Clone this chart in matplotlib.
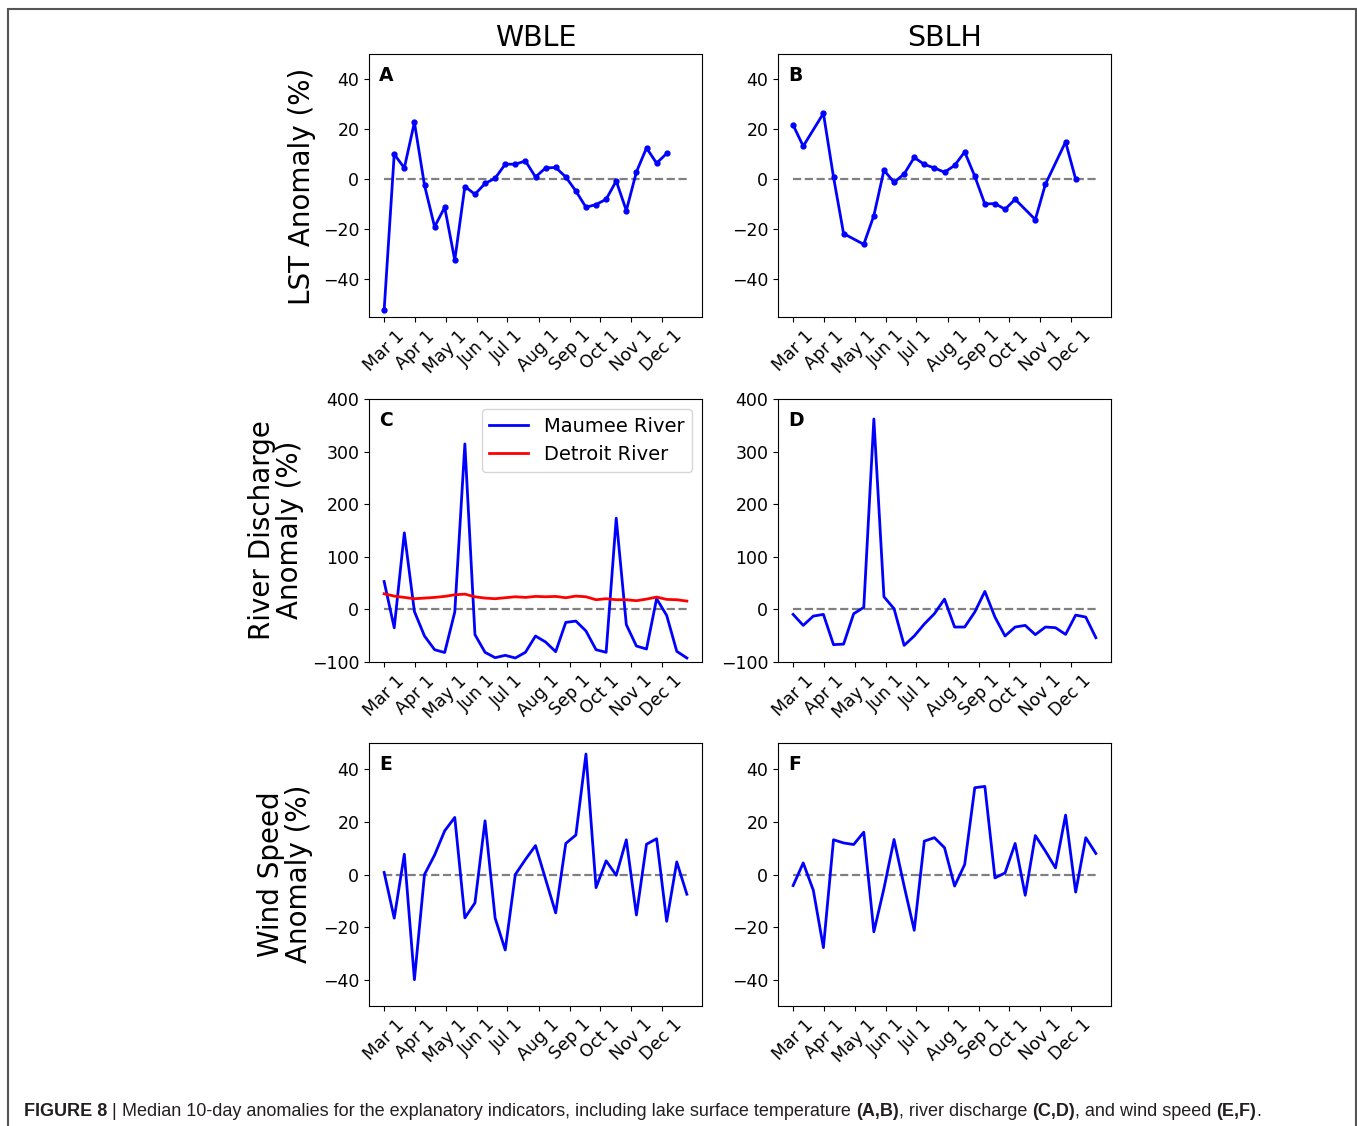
import numpy as np
import matplotlib.pyplot as plt
from matplotlib.patches import Rectangle

# ------------------------------------------------------------
# data (days after Mar 1, one value every 10 days)
# ------------------------------------------------------------
DAYS = [0, 10, 20, 30, 40, 50, 60, 70, 80, 90, 100, 110, 120, 130, 140, 150,
        160, 170, 180, 190, 200, 210, 220, 230, 240, 250, 260, 270, 280, 290, 300]

MONTH_DAYS = [0, 31, 61, 92, 122, 153, 184, 214, 245, 275]
MONTH_LABELS = ["Mar 1", "Apr 1", "May 1", "Jun 1", "Jul 1",
                "Aug 1", "Sep 1", "Oct 1", "Nov 1", "Dec 1"]

# LST anomaly (%)
LST_WBLE = [-52.3, 10.0, 4.5, 22.7, -2.4, -19.0, -11.2, -32.3, -2.9, -6.0,
            -1.7, 0.4, 6.0, 6.0, 7.3, 0.9, 4.5, 4.7, 0.9, -4.7,
            -11.2, -10.1, -8.0, -0.7, -12.5, 2.9, 12.5, 6.4, 10.3]
SBLH_LST_DAYS = [0, 10, 30, 40, 50, 70, 80, 90, 100, 110, 120, 130, 140,
                 150, 160, 170, 180, 190, 200, 210, 220, 240, 250, 270, 280]
LST_SBLH = [21.6, 13.2, 26.3, 0.9, -21.7, -26.0, -14.5, 3.6, -1.2, 2.1,
            8.7, 5.9, 4.5, 2.8, 5.5, 10.9, 1.2, -9.9, -9.7, -12.0,
            -8.0, -16.1, -2.0, 14.9, 0.0]

# River discharge anomaly (%)
MAUMEE = [53, -35, 145.6, -4, -50.6, -76.6, -82, -5, 314.6, -48,
          -81.6, -91.8, -87.3, -92.4, -81.6, -50.6, -62, -80.4, -24.7, -22.2,
          -41, -76.6, -81.6, 173.4, -29, -69.6, -75.3, 20.3, -11.4, -79.7, -92.4]
DETROIT = [29.7, 25.3, 22.8, 20.3, 21.5, 22.8, 24.7, 27.8, 29.0, 24.0,
           21.5, 20.3, 22.2, 24.0, 22.8, 24.7, 24.0, 24.7, 22.2, 25.3,
           24.0, 18.4, 20.3, 18.4, 18.4, 16.5, 19.6, 23.4, 19.0, 18.4, 15.8]
SBLH_Q = [-9.5, -30.4, -12.7, -9.5, -67, -66, -8.2, 3.8, 362, 24,
          1.3, -68.4, -50.6, -27.8, -8.2, 19.6, -33.5, -33.5, -5, 34.2,
          -14.6, -50.6, -33.5, -30.4, -48, -33.5, -34.8, -47.5, -10.8, -14.6, -53.8]

# Wind speed anomaly (%)
WIND_WBLE = [0.8, -16.6, 7.7, -40, 0, 7.4, 16.6, 21.7, -16.5, -10.8,
             20.4, -16.6, -28.7, 0, 5.7, 11, -1.8, -14.6, 11.8, 15,
             45.8, -5, 5.2, -0.3, 13.2, -15.4, 11.5, 13.6, -17.8, 4.8, -7.5]
WIND_SBLH = [-4.2, 4.4, -6, -27.8, 13.2, 12, 11.4, 16.1, -21.8, -5.3,
             13.3, -4.4, -21.2, 12.7, 14, 10.2, -4.4, 3.8, 33, 33.5,
             -1.3, 0.6, 11.8, -7.9, 14.8, 8.9, 2.5, 22.6, -6.7, 14, 8]

# ------------------------------------------------------------
# layout (pixel boxes measured on a 1357 x 1126 canvas)
# ------------------------------------------------------------
FIG_W, FIG_H = 1357, 1126
AX_W, AX_H = 333, 263
COL_LEFT = [369, 778]
ROW_TOP = [54, 399, 743]

fig = plt.figure(figsize=(FIG_W / 100, FIG_H / 100), dpi=100)


def add_ax(col, row):
    left = COL_LEFT[col] / FIG_W
    bottom = 1 - (ROW_TOP[row] + AX_H) / FIG_H
    return fig.add_axes([left, bottom, AX_W / FIG_W, AX_H / FIG_H])


def style(ax, letter, ylim, yticks):
    ax.plot([DAYS[0], DAYS[-1]], [0, 0], linestyle="--", color="gray", lw=1.6, zorder=1)
    ax.set_xticks(MONTH_DAYS)
    ax.set_xticklabels(MONTH_LABELS, rotation=45)
    ax.set_ylim(*ylim)
    ax.set_yticks(yticks)
    ax.tick_params(labelsize=12.5)
    ax.text(0.03, 0.955, letter, transform=ax.transAxes, ha="left", va="top",
            fontsize=13.5, fontweight="bold")


BLUE = "#0000ff"

# row 1: LST
axA = add_ax(0, 0)
axA.plot(DAYS[:len(LST_WBLE)], LST_WBLE, color=BLUE, lw=2, marker="o", ms=3.5)
style(axA, "A", (-55, 50), [-40, -20, 0, 20, 40])
axA.set_title("WBLE", fontsize=20.5)

axB = add_ax(1, 0)
axB.plot(SBLH_LST_DAYS, LST_SBLH, color=BLUE, lw=2, marker="o", ms=3.5)
style(axB, "B", (-55, 50), [-40, -20, 0, 20, 40])
axB.set_title("SBLH", fontsize=20.5)

# row 2: discharge
axC = add_ax(0, 1)
axC.plot(DAYS, MAUMEE, color=BLUE, lw=2, label="Maumee River")
axC.plot(DAYS, DETROIT, color="red", lw=2, label="Detroit River")
style(axC, "C", (-100, 400), [-100, 0, 100, 200, 300, 400])
axC.legend(loc="upper right", fontsize=14)

axD = add_ax(1, 1)
axD.plot(DAYS, SBLH_Q, color=BLUE, lw=2)
style(axD, "D", (-100, 400), [-100, 0, 100, 200, 300, 400])

# row 3: wind
axE = add_ax(0, 2)
axE.plot(DAYS, WIND_WBLE, color=BLUE, lw=2)
style(axE, "E", (-50, 50), [-40, -20, 0, 20, 40])

axF = add_ax(1, 2)
axF.plot(DAYS, WIND_SBLH, color=BLUE, lw=2)
style(axF, "F", (-50, 50), [-40, -20, 0, 20, 40])

for ax in (axA, axB, axC, axD, axE, axF):
    ax.set_xlim(-15, 315)

# y labels
fig.text(302 / FIG_W, 1 - 186 / FIG_H, "LST Anomaly (%)", rotation=90,
         ha="center", va="center", fontsize=20)
fig.text(276 / FIG_W, 1 - 530 / FIG_H, "River Discharge\nAnomaly (%)", rotation=90,
         ha="center", va="center", fontsize=20, linespacing=1.0)
fig.text(285 / FIG_W, 1 - 874 / FIG_H, "Wind Speed\nAnomaly (%)", rotation=90,
         ha="center", va="center", fontsize=20, linespacing=1.0)

# page frame
fig.patches.append(Rectangle((7.5 / FIG_W, -0.02), (1356 - 7.5) / FIG_W, 1.02 - 8.5 / FIG_H,
                             transform=fig.transFigure, fill=False,
                             edgecolor="#555555", lw=1.5))

# caption, built from bold / regular pieces
CAPTION = [("FIGURE 8", "bold"), (" | ", "normal"),
           ("Median 10-day anomalies for the explanatory indicators, including lake surface temperature ", "normal"),
           ("(A,B)", "bold"), (", river discharge ", "normal"), ("(C,D)", "bold"),
           (", and wind speed ", "normal"), ("(E,F)", "bold"), (".", "normal")]
CAP_FAMILY = ["Liberation Sans Narrow", "Liberation Sans", "DejaVu Sans"]
CAP_X0, CAP_X1, CAP_BASE = 24, 1265, 1116

renderer = fig.canvas.get_renderer()


def text_width(s, weight, size):
    t = fig.text(0, 0, s, fontsize=size, fontweight=weight, family=CAP_FAMILY)
    w = t.get_window_extent(renderer).width
    t.remove()
    return w


def piece_width(s, weight, size):
    # keep leading / trailing spaces by padding with a marker character
    return text_width("|" + s + "|", weight, size) - 2 * text_width("|", weight, size)


size = 12.5
total = sum(piece_width(s, w, size) for s, w in CAPTION)
size = size * (CAP_X1 - CAP_X0) / total

x = CAP_X0
for s, w in CAPTION:
    fig.text(x / FIG_W, 1 - CAP_BASE / FIG_H, s, fontsize=size, fontweight=w,
             family=CAP_FAMILY, ha="left", va="baseline", color="#231f20")
    x += piece_width(s, w, size)

fig.savefig("out.png", dpi=100)
